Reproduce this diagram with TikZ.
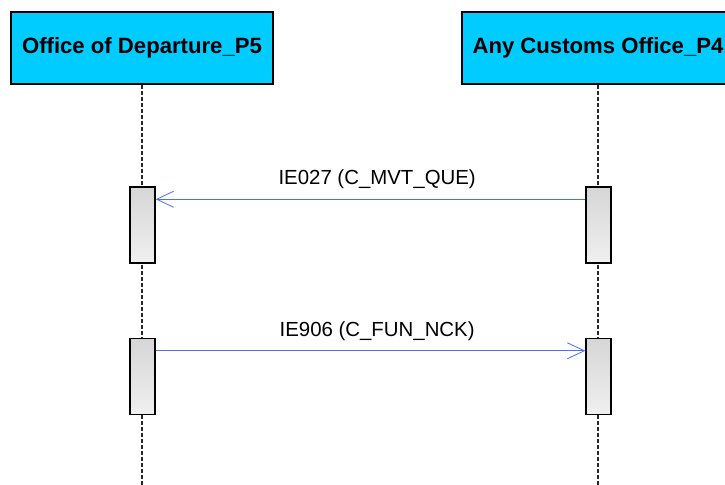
\documentclass[tikz,border=0pt]{standalone}
\usepackage{fontspec}
\setmainfont{Liberation Sans}
\usetikzlibrary{arrows.meta, positioning, calc}
\definecolor{headcyan}{RGB}{0,204,255}
\definecolor{msgblue}{RGB}{70,110,255}

\begin{document}
\begin{tikzpicture}[x=0.75pt, y=-0.75pt,
  head/.style={draw, line width=1pt, fill=headcyan, minimum height=54pt,
               inner sep=0pt, font=\fontsize{16.6}{19}\selectfont\bfseries},
  life/.style={line width=0.9pt, dash pattern=on 3pt off 1.5pt, black!85},
  actbar/.style={draw, line width=1.1pt, top color=gray!32, bottom color=gray!12,
               minimum width=18.75pt, minimum height=57pt, inner sep=0pt},
  msg/.style={draw=msgblue, line width=0.6pt,
              -{Straight Barb[length=12.75pt, width=12pt]}},
  lbl/.style={font=\fontsize{15.3}{18}\selectfont, inner sep=0pt}]
  \useasboundingbox (0,0) rectangle (725,485);
  % lifeline heads
  \node[head, minimum width=196.5pt] (dep) at (142,48) {Office of Departure\_P5};
  \node[head, minimum width=204pt]   (cus) at (598,48) {Any Customs Office\_P4};
  \coordinate (depend) at (142,485);
  \coordinate (cusend) at (598,485);
  \draw[life] (dep) -- (depend);
  \draw[life] (cus) -- (cusend);
  % activation bars
  \node[actbar] (dep1) at (142.5,225)   {};
  \node[actbar] (cus1) at (598.5,225)   {};
  \node[actbar] (dep2) at (142.5,376.5) {};
  \node[actbar] (cus2) at (598.5,376.5) {};
  % messages
  \draw[msg] ([yshift=-9.75pt]cus1.north west) -- ([yshift=-9.75pt]dep1.north east)
    node[lbl, midway, yshift=15pt, xshift=5pt] (m1) {IE027 (C\_MVT\_QUE)};
  \draw[msg] ([yshift=-9.75pt]dep2.north east) -- ([yshift=-9.75pt]cus2.north west)
    node[lbl, midway, yshift=15pt, xshift=5pt] (m2) {IE906 (C\_FUN\_NCK)};
\end{tikzpicture}
\end{document}
